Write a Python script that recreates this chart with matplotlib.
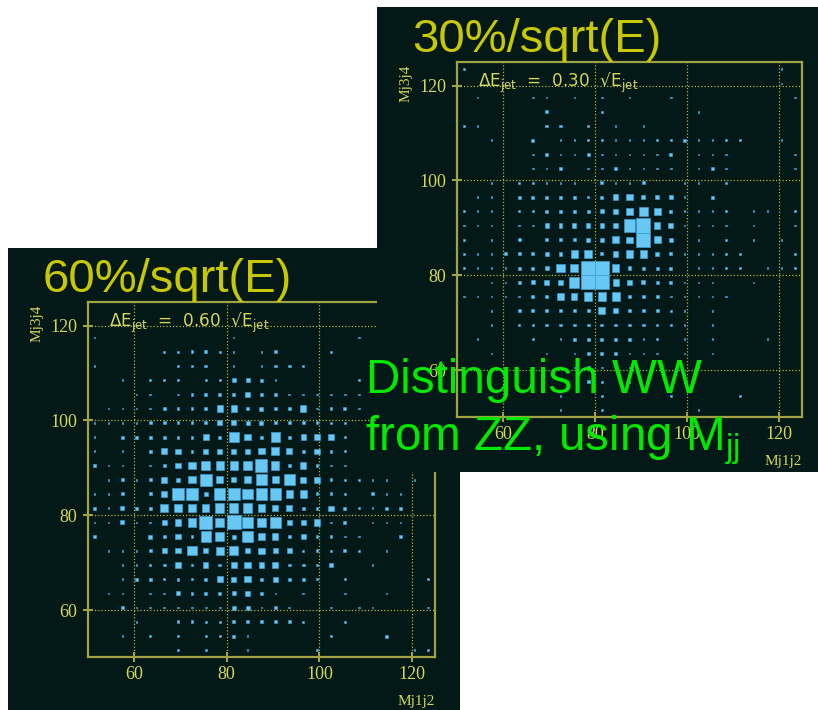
import numpy as np
import matplotlib
matplotlib.use('Agg')
import matplotlib.pyplot as plt
from matplotlib.patches import Rectangle
from matplotlib.collections import PatchCollection

plt.rcParams['mathtext.fontset'] = 'custom'
plt.rcParams['mathtext.rm'] = 'Liberation Sans'

# ---------------- data ----------------
bin_edges = [50, 53, 56, 59, 62, 65, 68, 71, 74, 77, 80, 83, 86, 89, 92,
             95, 98, 101, 104, 107, 110, 113, 116, 119, 122, 125]
tick_values = [60, 80, 100, 120]
axis_range = [50, 125]

titles = ["60%/sqrt(E)", "30%/sqrt(E)"]
resolution_labels = ["0.60", "0.30"]
x_label = "Mj1j2"
y_label = "Mj3j4"
message_line1 = "Distinguish WW"
message_line2 = "from ZZ, using "

# bin contents (box sizes), rows from top (Mj3j4 = 123.5) to bottom (51.5)
counts_60 = [
    [0,0,0,0,0,0,0,0,0,0,0,0,0,0,0,0,0,0,0,0,0,0,0,0,0],
    [0,0,0,0,0,0,0,0,0,0,0,0,0,0,0,0,0,0,0,0,0,0,0,0,0],
    [1,0,0,0,0,0,0,0,0,0,1,0,0,0,0,0,0,0,0,1,0,0,0,0,0],
    [0,0,0,0,0,1,1,2,2,1,1,0,1,2,0,0,0,1,0,0,0,0,0,0,0],
    [1,0,0,0,0,0,1,1,2,0,1,0,1,2,2,1,0,0,0,0,0,0,0,0,0],
    [0,0,1,0,1,1,1,0,1,1,3,3,2,1,0,0,0,0,0,1,0,0,0,0,0],
    [0,0,0,1,1,0,1,2,2,2,2,4,2,2,1,1,1,1,1,1,0,0,0,0,0],
    [0,1,1,1,1,2,2,2,2,5,5,2,3,2,2,5,1,2,2,1,0,0,0,0,0],
    [1,1,1,1,2,2,2,2,2,4,4,3,3,2,2,2,2,1,1,0,0,0,0,0,0],
    [1,0,2,2,2,2,2,2,5,2,9,5,2,8,2,4,4,4,1,0,0,0,0,0,0],
    [1,0,1,0,2,5,4,2,4,4,4,4,5,7,5,2,4,2,1,0,0,0,0,0,0],
    [2,1,1,0,1,2,4,6,8,7,7,7,11,7,2,5,2,1,1,0,0,0,0,0,0],
    [0,1,2,1,2,5,3,6,11,6,4,6,10,6,10,5,5,2,1,1,1,1,0,1,0],
    [1,1,2,0,2,5,10,10,3,10,11,9,10,10,6,6,2,2,1,0,2,1,1,0,0],
    [2,1,3,2,2,7,6,6,6,8,8,8,6,5,5,2,2,4,2,1,1,2,2,0,0],
    [1,1,3,1,1,4,5,7,12,8,13,9,7,10,4,4,5,1,2,0,1,1,1,0,0],
    [2,0,0,0,3,2,4,2,9,8,3,9,6,5,2,4,2,2,1,1,0,0,2,0,0],
    [0,1,1,1,2,4,4,8,4,7,8,4,5,4,4,1,2,1,2,1,0,1,0,0,0],
    [0,0,1,1,1,2,4,1,4,2,5,5,4,5,2,2,1,3,0,0,1,0,0,0,0],
    [0,0,1,2,2,1,2,1,2,5,4,5,2,4,2,2,1,0,1,0,0,0,0,0,1],
    [0,1,1,0,1,1,3,2,2,2,3,4,2,1,0,1,0,0,1,0,0,1,0,0,0],
    [0,0,2,1,1,1,1,1,1,1,3,3,1,2,1,0,0,1,0,1,1,0,0,0,1],
    [0,0,0,1,0,0,2,2,1,1,2,2,2,2,2,1,0,0,1,0,0,0,0,0,0],
    [0,0,1,0,1,0,1,0,1,1,2,1,0,0,0,0,0,1,0,0,0,2,0,0,0],
    [0,0,0,0,0,0,1,0,1,0,0,1,0,0,0,0,1,0,0,0,0,0,0,1,1],
]

counts_30 = [
    [1,0,0,0,0,0,0,0,0,0,0,0,0,0,0,0,0,0,0,0,0,0,0,1,0],
    [0,0,0,0,0,0,0,0,0,0,0,0,0,0,0,0,0,0,0,0,0,0,0,1,0],
    [0,1,0,0,0,1,1,0,1,0,1,0,1,0,0,1,0,0,0,0,0,0,0,0,1],
    [0,0,0,0,0,0,2,0,0,0,1,0,0,0,0,0,0,1,0,0,0,0,0,0,0],
    [1,1,0,0,0,0,2,2,0,1,0,1,0,1,0,0,0,0,0,0,0,0,0,0,0],
    [0,0,1,0,0,2,0,1,1,1,1,1,1,1,1,1,2,1,1,1,1,0,0,1,0],
    [0,0,0,0,0,1,2,1,1,2,1,1,1,1,1,2,0,1,1,1,0,0,0,0,1],
    [0,0,0,0,0,1,1,2,0,1,1,2,1,1,1,1,0,1,2,1,0,0,0,0,1],
    [0,0,1,0,1,1,1,1,1,0,2,1,1,2,0,0,1,1,0,1,0,0,0,0,0],
    [0,1,1,0,2,2,2,2,2,1,2,4,5,3,3,3,1,0,2,0,0,0,0,0,0],
    [1,1,1,0,1,1,2,2,2,2,3,4,6,8,6,2,1,1,1,1,0,1,1,0,1],
    [1,1,1,0,1,1,3,3,3,3,3,4,11,13,5,4,1,1,1,1,0,1,0,0,1],
    [1,0,1,0,2,0,2,2,2,3,3,6,5,13,6,3,0,1,0,1,0,1,0,1,0],
    [1,1,1,2,2,2,3,3,6,7,2,4,6,6,3,2,1,1,1,1,1,0,0,0,1],
    [1,1,1,1,2,2,3,7,7,13,13,6,3,2,2,2,0,1,1,1,1,0,1,1,1],
    [0,0,1,1,2,3,4,4,9,13,13,5,4,3,2,2,1,1,1,0,0,1,0,0,0],
    [1,1,1,1,1,2,2,5,5,7,7,7,2,2,2,1,1,1,1,1,0,0,0,0,0],
    [0,0,1,0,2,2,2,2,2,2,6,4,2,2,2,1,1,0,1,0,0,0,0,0,0],
    [0,0,1,0,1,1,2,2,2,2,2,2,2,2,1,1,1,0,1,0,0,0,0,0,0],
    [0,1,0,0,0,1,0,1,2,2,2,2,2,1,1,0,1,0,1,0,0,0,1,0,0],
    [0,0,1,0,0,0,1,0,1,2,2,2,1,1,1,0,1,0,1,0,0,0,0,0,0],
    [0,0,0,0,0,0,0,0,1,2,1,1,1,0,0,0,0,1,0,0,0,0,0,0,0],
    [0,0,0,0,0,0,0,0,0,2,1,0,1,0,0,0,1,0,0,0,0,0,0,0,0],
    [0,0,0,0,0,0,0,1,0,0,1,0,0,0,0,1,0,0,0,0,1,0,0,0,0],
    [0,0,0,0,0,0,0,1,0,0,1,0,0,0,0,0,0,1,0,0,0,0,0,0,0],
]

# ---------------- style ----------------
W, H = 818, 710
BG = '#021917'
TITLE_C = '#c9c800'
TICK_C = '#d6d65a'
FRAME_C = '#a2a244'
GRID_C = '#b4b43c'
BOX_FACE = '#68c8f4'
BOX_EDGE = '#3f9fd6'
GREEN = '#00ea00'

fig = plt.figure(figsize=(W / 100, H / 100), dpi=100)
fig.patch.set_facecolor('white')


def fig_rect(x0, y0, x1, y1):
    """pixel box (top-left origin) -> figure fraction [left, bottom, w, h]"""
    return [x0 / W, 1 - y1 / H, (x1 - x0) / W, (y1 - y0) / H]


def draw_panel(counts, bg_box, ax_box, z, title, res):
    l, b, w, h = fig_rect(*bg_box)
    fig.add_artist(Rectangle((l, b), w, h, transform=fig.transFigure,
                             facecolor=BG, edgecolor='none', zorder=z))
    ax = fig.add_axes(fig_rect(*ax_box))
    ax.set_zorder(z + 0.5)
    ax.set_facecolor(BG)
    ax.set_xlim(axis_range)
    ax.set_ylim(axis_range)

    c = np.array(counts)[::-1]
    edges = np.array(bin_edges, dtype=float)
    centers = (edges[:-1] + edges[1:]) / 2
    bw = edges[1] - edges[0]
    cmax = c.max()
    rects = []
    for j in range(c.shape[0]):
        for i in range(c.shape[1]):
            v = c[j, i]
            if v > 0:
                s = bw * (v / cmax) ** 0.85
                rects.append(Rectangle((centers[i] - s / 2, centers[j] - s / 2), s, s))
    pc = PatchCollection(rects, facecolor=BOX_FACE, edgecolor=BOX_EDGE,
                         linewidth=0.45, zorder=3)
    ax.add_collection(pc)

    ax.set_axisbelow(True)
    ax.grid(True, color=GRID_C, linestyle=(0, (1, 1.6)), linewidth=0.9)
    for sp in ax.spines.values():
        sp.set_color(FRAME_C)
        sp.set_linewidth(1.6)
    ax.set_xticks(tick_values)
    ax.set_yticks(tick_values)
    ax.set_xticklabels([str(t) for t in tick_values])
    ax.set_yticklabels([str(t) for t in tick_values])
    ax.tick_params(direction='inout', length=7, width=1.5, color=FRAME_C,
                   labelcolor=TICK_C, labelsize=13, pad=4)
    ax.tick_params(axis='x', pad=3)
    for lab in ax.get_xticklabels() + ax.get_yticklabels():
        lab.set_fontfamily('Liberation Serif')

    ax.text(1.0, -0.124, x_label, transform=ax.transAxes, ha='right', va='center',
            fontsize=11, color=TICK_C, family='Liberation Serif')
    ax.text(-0.147, 0.941, y_label, transform=ax.transAxes, ha='center', va='center',
            rotation=90, fontsize=11, color=TICK_C, family='Liberation Serif')
    ax.text(-0.13, 1.028, title, transform=ax.transAxes, ha='left', va='baseline',
            fontsize=34, color=TITLE_C, family='Liberation Sans', clip_on=False)
    ax.text(0.062, 0.93,
            r'$\mathregular{\Delta E_{jet}}$  =  ' + res + r'  $\mathregular{√E_{jet}}$',
            transform=ax.transAxes, ha='left', va='baseline', fontsize=12.2,
            color=TICK_C, family='DejaVu Sans', zorder=6)
    return ax


# left panel (60%) drawn first, right panel (30%) on top
draw_panel(counts_60, (8, 248, 460, 711), (87.7, 302, 435.2, 657.4), 1,
           titles[0], resolution_labels[0])
draw_panel(counts_30, (377, 7, 818, 472), (457, 62, 802, 417.4), 3,
           titles[1], resolution_labels[1])

fig.text(366 / W, 1 - 393 / H, message_line1, ha='left', va='baseline',
         fontsize=34.3, color=GREEN, family='Liberation Sans', zorder=10)
fig.text(365 / W, 1 - 450 / H, message_line2 + r'$\mathregular{M_{jj}}$',
         ha='left', va='baseline', fontsize=34.3, color=GREEN,
         family='Liberation Sans', zorder=10)

fig.savefig('out.png', dpi=100, facecolor='white')
